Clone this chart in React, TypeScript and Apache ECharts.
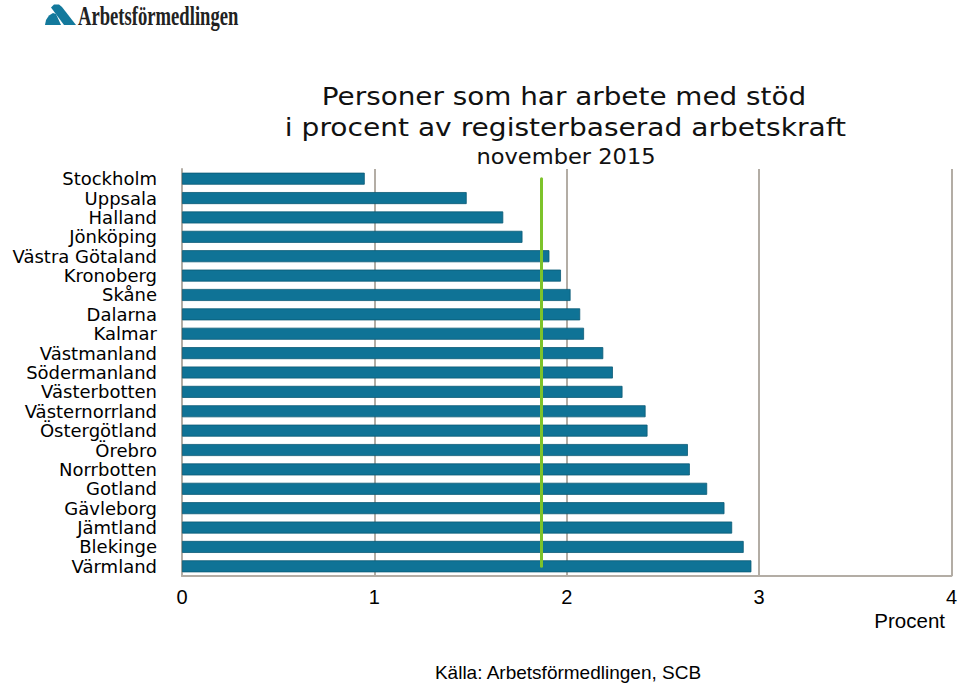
import React, { useEffect, useRef } from "react";
import * as echarts from "echarts";

const categories = [
  "Stockholm", "Uppsala", "Halland", "Jönköping", "Västra Götaland", "Kronoberg",
  "Skåne", "Dalarna", "Kalmar", "Västmanland", "Södermanland", "Västerbotten",
  "Västernorrland", "Östergötland", "Örebro", "Norrbotten", "Gotland",
  "Gävleborg", "Jämtland", "Blekinge", "Värmland",
];
const values = [
  0.95, 1.48, 1.67, 1.77, 1.91, 1.97, 2.02, 2.07, 2.09, 2.19, 2.24, 2.29,
  2.41, 2.42, 2.63, 2.64, 2.73, 2.82, 2.86, 2.92, 2.96,
];
const nationalAverage = 1.87;
const xTicks = [0, 1, 2, 3, 4];
const titleLines = ["Personer som har arbete med stöd", "i procent av registerbaserad arbetskraft"];
const subtitle = "november 2015";
const source = "Källa: Arbetsförmedlingen, SCB";
const unit = "Procent";

const FONT = "DejaVu Sans";
const LFONT = "Liberation Sans";
const GRID = "#b3ada5";
const BAR = "#0f7396";

export default function App() {
  const ref = useRef<HTMLDivElement>(null);
  useEffect(() => {
    if (!ref.current) return;
    const chart = echarts.init(ref.current, null, { renderer: "svg" });
    chart.setOption({
      animation: false,
      grid: { left: 182, right: 7, top: 169, bottom: 108, containLabel: false },
      xAxis: {
        type: "value",
        min: xTicks[0],
        max: xTicks[xTicks.length - 1],
        interval: 1,
        axisLine: { show: true, lineStyle: { color: GRID, width: 2 } },
        axisTick: { show: false },
        splitLine: { show: true, lineStyle: { color: GRID, width: 2 } },
        axisLabel: { color: "#000", fontFamily: LFONT, fontSize: 20, margin: 11 },
      },
      yAxis: {
        type: "category",
        data: categories,
        inverse: true,
        axisLine: { show: true, lineStyle: { color: GRID, width: 2 } },
        axisTick: { show: false },
        splitLine: { show: false },
        axisLabel: {
          color: "#000",
          fontFamily: FONT,
          fontSize: 18,
          lineHeight: 18,
          margin: 25,
          interval: 0,
        },
      },
      series: [
        {
          type: "bar",
          data: values,
          barWidth: 12,
          itemStyle: { color: BAR, borderColor: "#0b5a76", borderWidth: 0.8 },
          z: 2,
          markLine: {
            silent: true,
            symbol: "none",
            label: { show: false },
            lineStyle: { color: "#7dc32a", width: 3, type: "solid", cap: "round" },
            data: [
              [
                { coord: [nationalAverage, categories[0]] },
                { coord: [nationalAverage, categories[categories.length - 1]] },
              ],
            ],
          },
        },
      ],
      graphic: [
        {
          type: "polygon",
          shape: { points: [[45, 25], [46, 20], [49, 15.5], [53, 13], [56, 14], [61, 25]] },
          style: { fill: "#13799c" },
        },
        {
          type: "polygon",
          shape: { points: [[51, 7.5], [54, 4.5], [59, 4.5], [62, 7], [76, 25], [64, 25]] },
          style: { fill: "#13799c" },
        },
        {
          type: "text",
          x: 78,
          y: 15.5,
          scaleX: 0.69,
          style: {
            text: "Arbetsförmedlingen",
            fontFamily: "Liberation Serif",
            fontWeight: "bold",
            fontSize: 27,
            fill: "#222",
            textAlign: "left",
            textVerticalAlign: "middle",
          },
        },
        {
          type: "text",
          x: 564,
          y: 97,
          scaleX: 1.16,
          style: {
            text: titleLines[0],
            fontFamily: FONT,
            fontSize: 24,
            fill: "#111",
            textAlign: "center",
            textVerticalAlign: "middle",
          },
        },
        {
          type: "text",
          x: 565.5,
          y: 128,
          scaleX: 1.17,
          style: {
            text: titleLines[1],
            fontFamily: FONT,
            fontSize: 24,
            fill: "#111",
            textAlign: "center",
            textVerticalAlign: "middle",
          },
        },
        {
          type: "text",
          x: 566,
          y: 157,
          scaleX: 1.1,
          style: {
            text: subtitle,
            fontFamily: FONT,
            fontSize: 20.5,
            fill: "#111",
            textAlign: "center",
            textVerticalAlign: "middle",
          },
        },
        {
          type: "text",
          x: 945,
          y: 620,
          style: {
            text: unit,
            fontFamily: LFONT,
            fontSize: 20.5,
            fill: "#000",
            textAlign: "right",
            textVerticalAlign: "middle",
          },
        },
        {
          type: "text",
          x: 568,
          y: 672,
          style: {
            text: source,
            fontFamily: LFONT,
            fontSize: 19,
            fill: "#000",
            textAlign: "center",
            textVerticalAlign: "middle",
          },
        },
      ],
    });
    return () => chart.dispose();
  }, []);
  return (
    <div
      ref={ref}
      style={{ position: "fixed", left: 0, top: 0, width: 960, height: 684, background: "#fff" }}
    />
  );
}
